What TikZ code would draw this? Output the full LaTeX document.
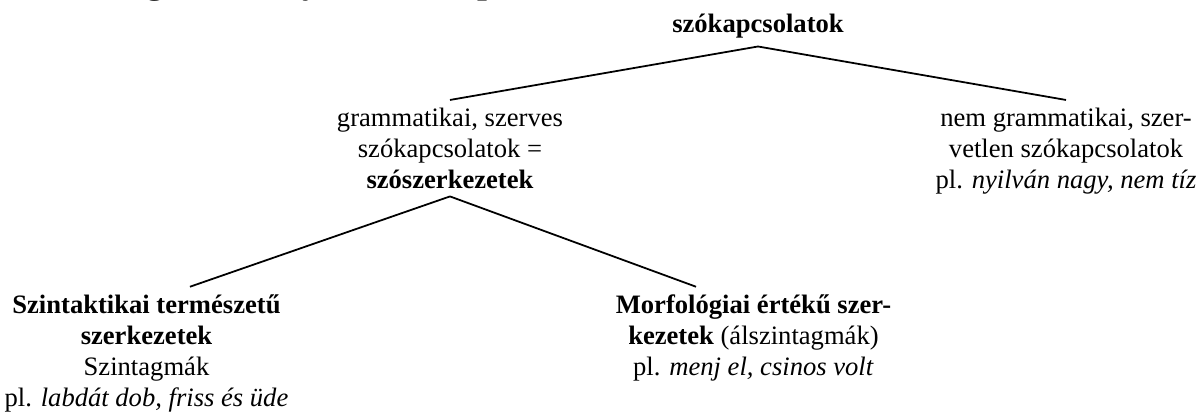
\documentclass[tikz,border=0pt]{standalone}
\usepackage{fontspec}
\setmainfont{Liberation Serif}

\begin{document}
\begin{tikzpicture}
[
    x=0.4511pt, y=-0.4511pt,
    every node/.style={align=center, font=\fontsize{12}{14}\selectfont},
    every child node/.style={anchor=north},
    level 1/.style={sibling distance=277.9pt, level distance=33.1pt},
    level 2/.style={sibling distance=273.8pt, level distance=62.5pt},
    edge from parent/.style={draw, line width=0.8pt},
    parent anchor=south, child anchor=north,
]
\useasboundingbox (0,0) rectangle (1204,419);
% cut-off heading above the picture
\begin{scope}
\clip (0,0) rectangle (1204,419);
\node [anchor=base, font=\fontsize{16}{19}\selectfont\bfseries] (headg) at (155,-6) {g};
\node [anchor=base, font=\fontsize{16}{19}\selectfont\bfseries] (heady) at (311,-6) {y};
\node [anchor=base, font=\fontsize{16}{19}\selectfont\bfseries] (headp) at (487,-6) {p};
\end{scope}
\node [anchor=base] (szk) at (758,33)
{\textbf{szókapcsolatok}}
    child {node (gram)
{grammatikai, szerves\\ szókapcsolatok =\\ \textbf{szószerkezetek}}
    child [edge from parent path={(\tikzparentnode.south) -- ([xshift=19.6pt]\tikzchildnode.north)}]
    {node (szint)
{\textbf{Szintaktikai természetű}\\ \textbf{szerkezetek}\\ Szintagmák\\ pl. \textit{labdát dob, friss és üde}}
}   child [edge from parent path={(\tikzparentnode.south) -- ([xshift=-25.9pt]\tikzchildnode.north)}]
    {node (morf)
{\textbf{Morfológiai értékű szer-}\\ \textbf{kezetek} (álszintagmák)\\ pl. \textit{menj el, csinos volt}}
}}  child {node (nemgram)
{nem grammatikai, szer-\\ vetlen szókapcsolatok\\ pl. \textit{nyilván nagy, nem tíz}}
};
\end{tikzpicture}
\end{document}
